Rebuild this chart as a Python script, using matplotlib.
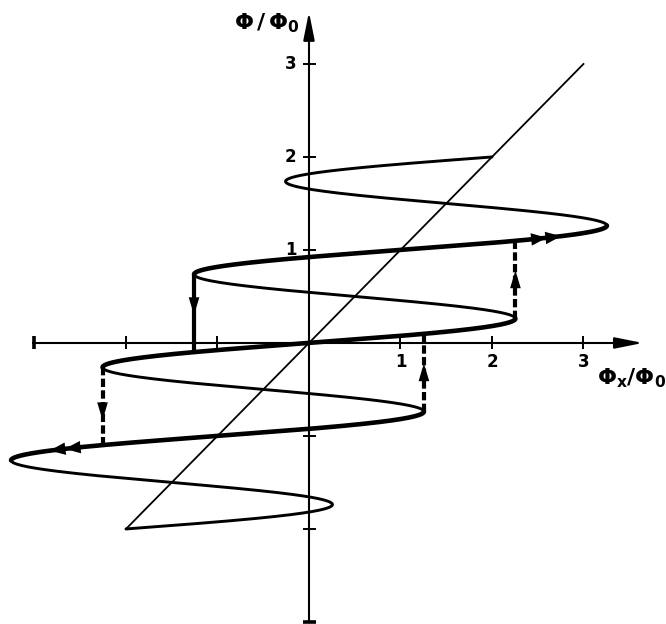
import numpy as np
import matplotlib.pyplot as plt

plt.rcParams['mathtext.fontset'] = 'custom'
plt.rcParams['mathtext.rm'] = 'DejaVu Sans:bold'
plt.rcParams['mathtext.it'] = 'DejaVu Sans:bold'
plt.rcParams['mathtext.bf'] = 'DejaVu Sans:bold'

## parameters of the flux curve  Phi_x = Phi + beta*sin(2 pi Phi)
beta = 2.0
phi_range = (-2.0, 2.0)
diag_range = (-2.0, 3.0)          # straight line Phi = Phi_x

# hysteresis branches (centre flux) and the jumps between them
branch_centres = [-1, 0, 1]
# (start branch, turning side, target branch, dashed, arrow height)
jumps = [
    (0, +1, 1, True, 0.70),
    (-1, +1, 0, True, -0.30),
    (1, -1, 0, False, 0.38),
    (0, -1, -1, True, -0.75),
]
# double chevrons along the travelled branches: (branch, Phi_x positions, direction)
chevrons = [(1, [2.56, 2.72], +1), (-1, [-2.63, -2.80], -1)]

x_ticks = [-3, -2, -1, 1, 2, 3]
y_ticks = [-3, -2, -1, 1, 2, 3]
tick_labels = ['1', '2', '3']


def flux_x(phi):
    return phi + beta * np.sin(2 * np.pi * phi)


phi_c = np.arccos(-1.0 / (2 * np.pi * beta)) / (2 * np.pi)

fig = plt.figure(figsize=(6.66, 6.24), dpi=100)
ax = fig.add_axes([0, 0, 1, 1])
ax.set_xlim(-3.377, 3.902)
ax.set_ylim(-3.022, 3.688)
ax.axis('off')

# axes with arrows
head = dict(arrowstyle='-|>,head_length=0.85,head_width=0.17',
            color='k', lw=1.5, mutation_scale=20, shrinkA=0, shrinkB=0)
ax.plot([-3.03, 3.5], [0, 0], color='k', lw=1.5, solid_capstyle='butt')
ax.plot([0, 0], [-3.0, 3.4], color='k', lw=1.5, solid_capstyle='butt')
ax.annotate('', xy=(3.65, 0), xytext=(3.35, 0), arrowprops=head)
ax.annotate('', xy=(0, 3.56), xytext=(0, 3.25), arrowprops=head)

for t in x_ticks:
    w = 2.6 if t == -3 else 1.4
    ax.plot([t, t], [-0.07, 0.075], color='k', lw=w, solid_capstyle='butt')
for t in y_ticks:
    w = 2.6 if t == -3 else 1.4
    ax.plot([-0.07, 0.075], [t, t], color='k', lw=w, solid_capstyle='butt')

for i, lab in enumerate(tick_labels):
    v = i + 1
    ax.text(v, -0.21, lab, ha='center', va='center', fontsize=12, fontweight='bold')
    ax.text(-0.2, v, lab, ha='center', va='center', fontsize=12, fontweight='bold')

ax.text(-0.1, 3.44, r'$\Phi\,/\,\Phi_0$', ha='right', va='center', fontsize=16)
ax.text(3.53, -0.38, r'$\Phi_x/\Phi_0$', ha='center', va='center', fontsize=16)

# straight line
ax.plot(diag_range, diag_range, color='k', lw=1.3)

# full flux curve, thin
phi = np.linspace(phi_range[0], phi_range[1], 2000)
ax.plot(flux_x(phi), phi, color='k', lw=2.1, solid_capstyle='round')

# stable branches, heavy
for k in branch_centres:
    p = np.linspace(k - phi_c, k + phi_c, 400)
    ax.plot(flux_x(p), p, color='k', lw=3.3, solid_capstyle='round')

# jumps between branches
for k0, side, k1, dashed, ya in jumps:
    p0 = k0 + side * phi_c
    x0 = flux_x(p0)
    pb = np.linspace(k1 - phi_c, k1 + phi_c, 400)
    p1 = np.interp(x0, flux_x(pb), pb)
    ls = (0, (2.0, 0.8)) if dashed else '-'
    ax.plot([x0, x0], [p0, p1], color='k', lw=3.0, linestyle=ls, solid_capstyle='butt',
            dash_capstyle='butt')
    d = np.sign(p1 - p0)
    ax.annotate('', xy=(x0, ya + 0.08 * d), xytext=(x0, ya - 0.01 * d),
                arrowprops=dict(arrowstyle='-|>,head_length=0.8,head_width=0.24',
                                color='k', lw=0, mutation_scale=16, shrinkA=0, shrinkB=0))

# direction chevrons on the branches
for k, xs, direction in chevrons:
    pb = np.linspace(k - phi_c, k + phi_c, 400)
    for xc in xs:
        pc = np.interp(xc, flux_x(pb), pb)
        dp = 0.004 * direction
        ax.annotate('', xy=(flux_x(pc + dp), pc + dp), xytext=(flux_x(pc), pc),
                    arrowprops=dict(arrowstyle='-|>,head_length=0.75,head_width=0.3',
                                    color='k', lw=0, mutation_scale=15, shrinkA=0, shrinkB=0))

fig.savefig('out.png', dpi=100, facecolor='white')
